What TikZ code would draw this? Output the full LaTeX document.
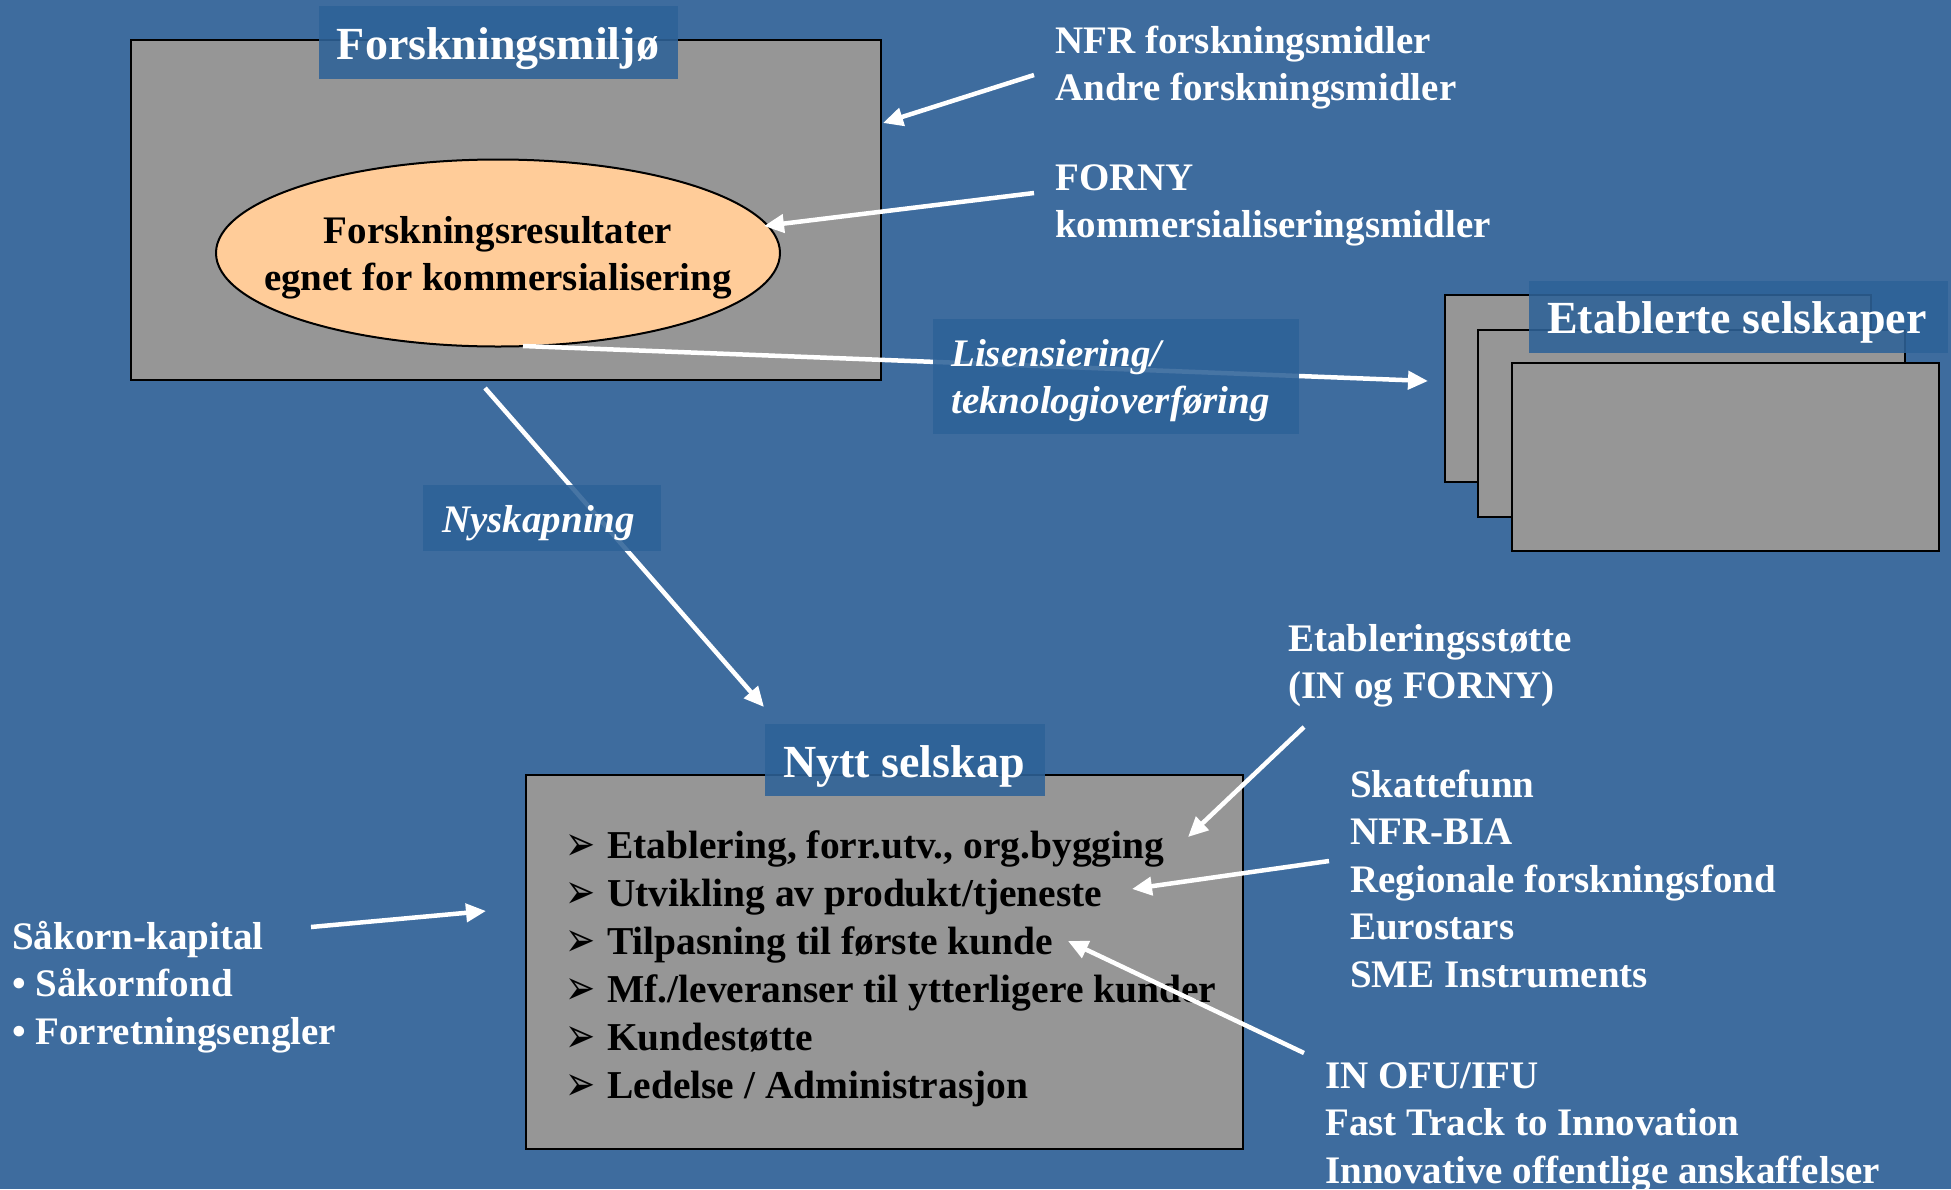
\documentclass[tikz,border=0pt]{standalone}
\usepackage{fontspec}
\usepackage{graphicx}
\setmainfont{Liberation Serif}
\newfontfamily\dejavu{DejaVu Sans}
\usetikzlibrary{shapes.geometric,arrows.meta}
\definecolor{bg}{RGB}{62,108,158}
\definecolor{lab}{RGB}{46,98,152}
\definecolor{boxgray}{RGB}{150,150,150}
\definecolor{peach}{RGB}{255,204,153}
\newcommand{\arb}{\makebox[37pt][l]{\hspace{-5pt}\raisebox{-2pt}{\scalebox{1}[1.35]{\fontsize{36}{36}\selectfont\dejavu ➢}}}}
\tikzset{
  bigbox/.style={draw=black, line width=2pt, fill=boxgray},
  labbox/.style={fill=lab, fill opacity=0.88, draw=none},
  ttl/.style={text=white, font=\fontsize{46}{55}\selectfont\bfseries, inner sep=0pt},
  wtxt/.style={text=white, font=\fontsize{39}{47.5}\selectfont\bfseries, align=left, anchor=base west, inner sep=0pt},
  itxt/.style={text=white, font=\fontsize{39}{47.5}\selectfont\bfseries\itshape, align=left, anchor=base west, inner sep=0pt},
  warr/.style={draw=white, line width=4.5pt, -{Triangle[length=20pt,width=18pt]}},
  wline/.style={draw=white, line width=4.5pt}
}
\begin{document}
\begin{tikzpicture}[x=1pt,y=-1pt]
\fill[bg] (0,0) rectangle (1951,1189);
\useasboundingbox (0,0) rectangle (1951,1189);

% Forskningsmiljø box
\draw[bigbox] (131,40) rectangle (881,380);
\node[ellipse, draw=black, line width=2pt, fill=peach, minimum width=564pt, minimum height=187pt, inner sep=0pt] (ell) at (498,253) {};
\node[font=\fontsize{39}{47}\selectfont\bfseries, align=center, inner sep=0pt] (elltxt) at ([yshift=-5pt]ell.center)
  {Forskningsresultater\\egnet for kommersialisering};
\fill[labbox] (319,6) rectangle (678,79);
\node[ttl] (t1) at (498,49) {Forskningsmiljø};

% Etablerte selskaper
\draw[bigbox] (1445,295) rectangle (1871,482);
\draw[bigbox] (1478,330) rectangle (1905,517);
\draw[bigbox] (1512,363) rectangle (1939,551);
\fill[labbox] (1529,281) rectangle (1948,353);
\node[ttl] (t2) at (1737,322) {Etablerte selskaper};

% Nytt selskap box
\draw[bigbox] (526,775) rectangle (1243,1149);
\fill[labbox] (765,724) rectangle (1045,796);
\node[ttl] (t3) at (904,766) {Nytt selskap};
\node[wtxt, text=black, font=\fontsize{39.5}{48}\selectfont\bfseries] (list) at (570,1098)
  {\arb Etablering, forr.utv., org.bygging\\
   \arb Utvikling av produkt/tjeneste\\
   \arb Tilpasning til første kunde\\
   \arb Mf./leveranser til ytterligere kunder\\
   \arb Kundestøtte\\
   \arb Ledelse / Administrasjon};

% right texts
\node[wtxt] (nfr) at (1055,100.5) {NFR forskningsmidler\\Andre forskningsmidler};
\node[wtxt] (forny) at (1055,237.5) {FORNY\\kommersialiseringsmidler};
\node[wtxt] (etab) at (1288,698.5) {Etableringsstøtte\\(IN og FORNY)};
\node[wtxt] (skatt) at (1350,987) {Skattefunn\\NFR-BIA\\Regionale forskningsfond\\Eurostars\\SME Instruments};
\node[wtxt] (inofu) at (1325,1183) {IN OFU/IFU\\Fast Track to Innovation\\Innovative offentlige anskaffelser};
\node[wtxt] (sakorn) at (12,1044) {Såkorn-kapital\\• Såkornfond\\• Forretningsengler};

% connector coordinates
\coordinate (a1s) at (1034,75);  \coordinate (a1e) at (883,123);
\coordinate (a2s) at (1034,193); \coordinate (a2e) at (764,226);
\coordinate (a3s) at (523,346);  \coordinate (a3e) at (1428,381);
\coordinate (a4s) at (485,388);  \coordinate (a4e) at (764,707);
\coordinate (a5s) at (1304,727); \coordinate (a5e) at (1188,837);
\coordinate (a6s) at (1329,861); \coordinate (a6e) at (1132,889);
\coordinate (a7s) at (1304,1053);\coordinate (a7e) at (1068,941);
\coordinate (a8s) at (311,927);  \coordinate (a8e) at (486,911);

\draw[warr] (a1s) -- (a1e);
\draw[warr] (a2s) -- (a2e);
\draw[warr] (a3s) -- (a3e);
\draw[warr] (a4s) -- (a4e);
\draw[warr] (a5s) -- (a5e);
\draw[warr] (a6s) -- (a6e);
\draw[warr] (a7s) -- (a7e);
\draw[warr] (a8s) -- (a8e);

% italic labels over lines
\fill[labbox] (933,319) rectangle (1299,434);
\node[itxt] (lis) at (951,413.5) {Lisensiering/\\teknologioverføring};
\fill[labbox] (423,485) rectangle (661,551);
\node[itxt] (nysk) at (442,532) {Nyskapning};
\end{tikzpicture}
\end{document}
